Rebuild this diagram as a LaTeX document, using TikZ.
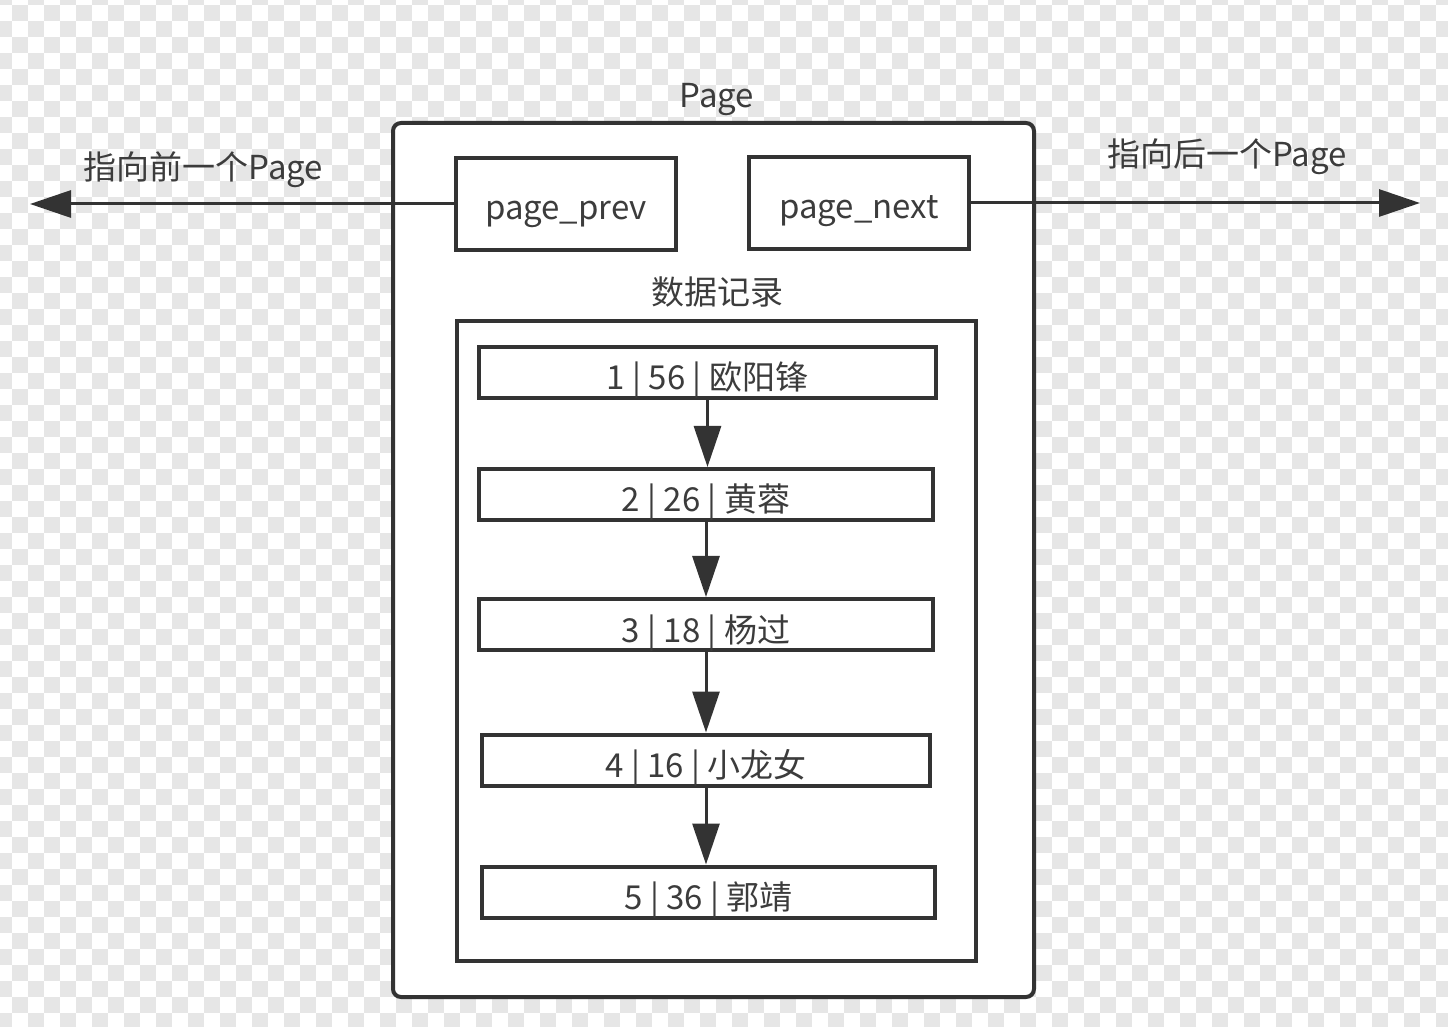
\documentclass[tikz,border=0pt]{standalone}
\usepackage{fontspec}
\setmainfont{Noto Sans CJK SC}
\usepackage{xcolor}
\usetikzlibrary{arrows.meta,positioning}
\definecolor{linegray}{HTML}{333333}
\definecolor{textgray}{HTML}{3C3C3C}
\definecolor{checkgray}{HTML}{E6E6E6}

\begin{document}
\begin{tikzpicture}[x=0.5pt, y=-0.5pt,
  font=\fontsize{16.5}{20}\selectfont, text=textgray,
  >={Triangle[length=20.5pt,width=13.5pt]},
  framebox/.style={draw=linegray, line width=2pt, fill=white, rounded corners=4pt,
    minimum width=320.5pt, minimum height=437pt, inner sep=0pt},
  ptrbox/.style={draw=linegray, line width=2pt, fill=white, minimum width=110pt,
    inner sep=0pt, text height=31pt, text depth=15pt},
  databox/.style={draw=linegray, line width=2pt, minimum width=259.5pt,
    minimum height=320pt, inner sep=0pt},
  recbox/.style={draw=linegray, line width=2pt, fill=white, inner sep=0pt,
    text height=21.5pt, text depth=4pt},
  link/.style={->, draw=linegray, line width=1.5pt}]

  % Background
  \useasboundingbox (0,0) rectangle (1448,1027);
  \begin{scope}
    \clip (0,0) rectangle (1448,1027);
    \foreach \j in {0,...,65}{
      \foreach \k in {0,...,45}{
        \pgfmathsetmacro\cx{-4+16*(2*\k+mod(\j,2))}
        \fill[checkgray] (\cx,-11.3+16*\j) rectangle ++(16,16);
      }
    }
  \end{scope}

  % Page
  \node[framebox] (page) at (713.5,560) {};
  \node[anchor=base] (pagelbl) at (717,108) {Page};

  % Pointers
  \node[ptrbox] (prev) at (566,204) {page\_prev};
  \node[ptrbox] (next) at (859,203) {page\_next};
  \coordinate (leftend) at (30,204);
  \coordinate (rightend) at (1420,203);
  \draw[link] (prev.west) -- (leftend);
  \draw[link] (next.east) -- (rightend);
  \node[anchor=base] (prevlbl) at (203.5,180) {指向前一个Page};
  \node[anchor=base] (nextlbl) at (1227,167) {指向后一个Page};

  % Records
  \node[anchor=base] (datalbl) at (717,305) {数据记录};
  \node[databox] (data) at (716.5,641) {};
  \node[recbox, minimum width=228.5pt] (r1) at (707.5,372.5) {1 | 56 | 欧阳锋};
  \node[recbox, minimum width=227pt] (r2) at (706,494.5) {2 | 26 | 黄蓉};
  \node[recbox, minimum width=227pt] (r3) at (706,624.5) {3 | 18 | 杨过};
  \node[recbox, minimum width=224pt] (r4) at (706,760) {4 | 16 | 小龙女};
  \node[recbox, minimum width=226.5pt] (r5) at (708.5,892) {5 | 36 | 郭靖};
  \draw[link] (r1.south) -- (r1.south |- r2.north);
  \draw[link] (r2.south) -- (r2.south |- r3.north);
  \draw[link] (r3.south) -- (r3.south |- r4.north);
  \draw[link] (r4.south) -- (r4.south |- r5.north);
\end{tikzpicture}
\end{document}
